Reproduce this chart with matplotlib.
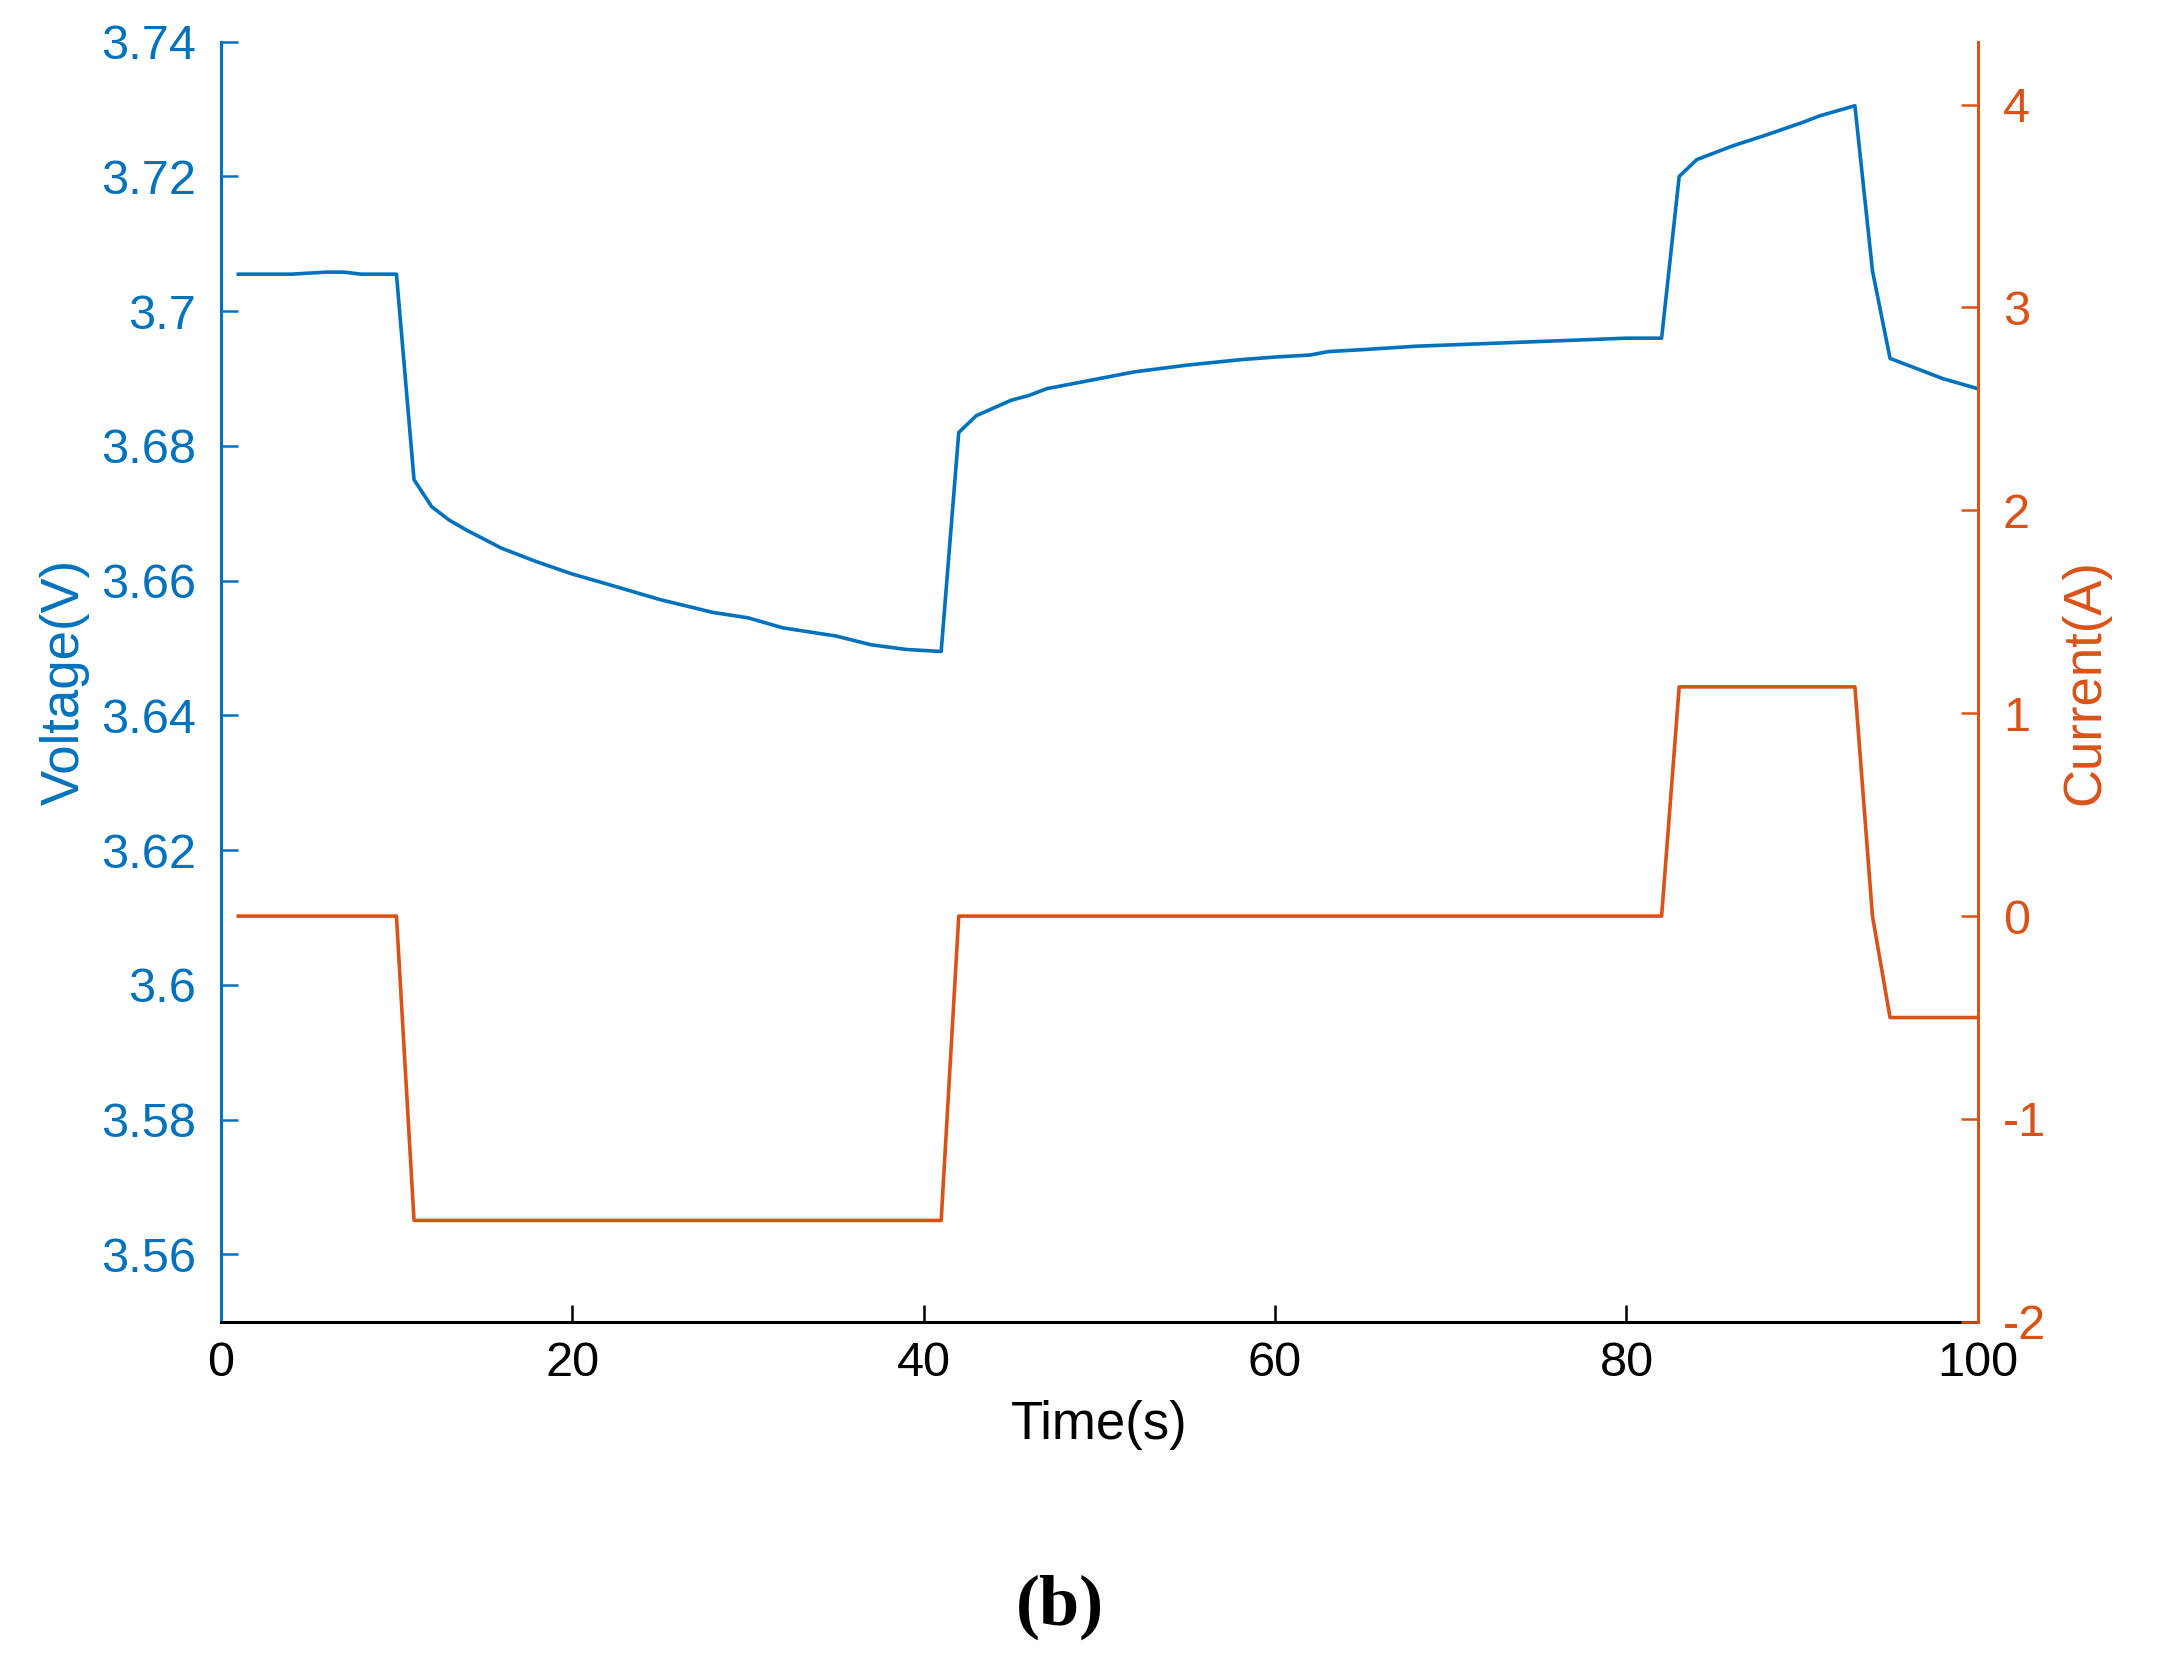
import matplotlib.pyplot as plt
import matplotlib.ticker as mticker

plt.rcParams['font.family'] = ['Liberation Sans', 'DejaVu Sans']
plt.rcParams['axes.unicode_minus'] = False

# voltage samples (s, V)
v_time = [1, 2, 4, 6, 7, 8, 10, 11, 12, 13, 14, 16, 18, 20, 22, 25, 28, 30, 32, 35, 37, 39, 41,
          42, 43, 45, 46, 47, 48, 50, 52, 55, 58, 60, 62, 63, 65, 68, 70, 72, 75, 78, 80, 82,
          83, 84, 86, 88, 90, 91, 93, 94, 95, 96, 97, 98, 100]
voltage = [3.7055, 3.7055, 3.7055, 3.7058, 3.7058, 3.7055, 3.7055, 3.675, 3.671, 3.669, 3.6675, 3.6648,
           3.6628, 3.661, 3.6595, 3.6572, 3.6553, 3.6545, 3.653, 3.6518, 3.6505, 3.6498, 3.6495,
           3.682, 3.6845, 3.6868, 3.6875, 3.6885, 3.689, 3.690, 3.691, 3.692, 3.6928, 3.6932,
           3.6935, 3.694, 3.6943, 3.6948, 3.695, 3.6952, 3.6955, 3.6958, 3.696, 3.696,
           3.720, 3.7225, 3.7245, 3.7262, 3.728, 3.729, 3.7305, 3.706, 3.693, 3.692, 3.691, 3.690, 3.6885]

# current samples (s, A)
i_time = [1, 10, 11, 41, 42, 82, 83, 93, 94, 95, 100]
current = [0, 0, -1.5, -1.5, 0, 0, 1.13, 1.13, 0, -0.5, -0.5]

blue = '#0072BD'
orange = '#D95319'

fig = plt.figure(figsize=(21.64, 16.69), dpi=100)
ax = fig.add_axes([0.102, 0.208, 0.812, 0.767])
ax.plot(v_time, voltage, color=blue, lw=2.6)
ax.set_xlim(0, 100)
ax.set_ylim(3.55, 3.74)
ax.set_yticks([3.56, 3.58, 3.6, 3.62, 3.64, 3.66, 3.68, 3.7, 3.72, 3.74])
ax.yaxis.set_major_formatter(mticker.FormatStrFormatter('%g'))
ax.set_xticks([0, 20, 40, 60, 80, 100])
ax.set_xlabel('Time(s)', fontsize=38, labelpad=10)
ax.set_ylabel('Voltage(V)', fontsize=38, color=blue, labelpad=8)
ax.tick_params(axis='y', colors=blue, labelsize=35, direction='in', length=12, width=1.8, pad=18)
ax.tick_params(axis='x', labelsize=35, direction='in', length=12, width=1.8, pad=14)
ax.spines['left'].set_color(blue)
ax.spines['top'].set_visible(False)
ax.spines['right'].set_visible(False)
for s in ax.spines.values():
    s.set_linewidth(2.2)

ax2 = ax.twinx()
ax2.plot(i_time, current, color=orange, lw=2.6)
ax2.set_ylim(-2, 4.31)
ax2.set_yticks([-2, -1, 0, 1, 2, 3, 4])
ax2.set_ylabel('Current(A)', fontsize=38, color=orange, labelpad=10)
ax2.tick_params(axis='y', colors=orange, labelsize=35, direction='in', length=12, width=1.8, pad=18)
ax2.spines['right'].set_color(orange)
ax2.spines['right'].set_linewidth(2.2)
ax2.spines['top'].set_visible(False)
ax2.spines['left'].set_visible(False)
ax2.spines['bottom'].set_visible(False)

fig.text(0.49, 0.037, '(b)', ha='center', va='center', fontsize=52,
         fontweight='bold', family=['Liberation Serif', 'DejaVu Serif'])

fig.savefig('out.png', dpi=100)
